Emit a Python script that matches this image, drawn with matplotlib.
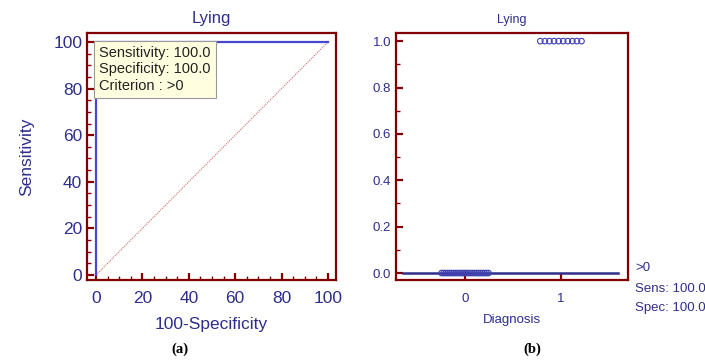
import numpy as np
import matplotlib.pyplot as plt
from matplotlib.ticker import MultipleLocator

plt.rcParams['font.family'] = ['Liberation Sans', 'DejaVu Sans']

# ROC curve for the "Lying" item
roc_fpr = [0, 0, 100]          # 100-Specificity
roc_tpr = [0, 100, 100]        # Sensitivity
sens, spec, criterion = 100.0, 100.0, '>0'

# dot plot values per diagnosis group
diagnosis = [0, 1]
group_values = [0, 1]
group_counts = [24, 10]

frame = '#800000'
navy = '#2E2E8C'
blue = '#4646D0'

fig = plt.figure(figsize=(7.05, 3.6), dpi=100)


def style_axes(ax, fs):
    for s in ax.spines.values():
        s.set_color(frame)
        s.set_linewidth(1.6)
    ax.tick_params(which='both', direction='in', color=frame, labelcolor=navy,
                   labelsize=fs, top=False, right=False)
    ax.tick_params(which='major', length=5, width=1.6)
    ax.tick_params(which='minor', length=3, width=1)


# (a) ROC curve
ax1 = fig.add_axes([0.1234, 0.2222, 0.3532, 0.6861])
ax1.plot([0, 100], [0, 100], color='#D07070', lw=0.8, ls=(0, (1, 1)))
ax1.plot(roc_fpr, roc_tpr, color=blue, lw=1.6)
ax1.set_xlim(-3.9, 103.5)
ax1.set_ylim(-2.2, 103.9)
ax1.xaxis.set_major_locator(MultipleLocator(20))
ax1.yaxis.set_major_locator(MultipleLocator(20))
ax1.xaxis.set_minor_locator(MultipleLocator(5))
ax1.yaxis.set_minor_locator(MultipleLocator(5))
style_axes(ax1, 12.5)
ax1.tick_params(axis='x', pad=8)
ax1.set_title('Lying', color=navy, fontsize=12, pad=7)
ax1.set_xlabel('100-Specificity', color=navy, fontsize=12.5, labelpad=8)
ax1.set_ylabel('Sensitivity', color=navy, fontsize=12.5, labelpad=14)
ax1.text(1.3, 98.3, f'Sensitivity: {sens:.1f}\nSpecificity: {spec:.1f}\nCriterion : {criterion}',
         fontsize=10.5, color='#222222', va='top', ha='left', linespacing=1.22,
         bbox=dict(boxstyle='square,pad=0.35', fc='#FFFFE0', ec='#999999', lw=0.8))

# (b) dot plot by diagnosis
ax2 = fig.add_axes([0.5617, 0.2222, 0.3291, 0.6861])
ax2.plot([-0.65, 1.6], [0, 0], color='#2E2E8C', lw=1.8, zorder=2)
spread = [0.245, 0.215]
for d, v, n, w in zip(diagnosis, group_values, group_counts, spread):
    xs = d + np.linspace(-w, w, n)
    ax2.scatter(xs, [v] * n, s=16, facecolors='none', edgecolors='#4040B0',
                linewidths=0.8, zorder=3)
ax2.set_xlim(-0.72, 1.70)
ax2.set_ylim(-0.03, 1.035)
ax2.set_xticks(diagnosis)
ax2.yaxis.set_major_locator(MultipleLocator(0.2))
ax2.yaxis.set_minor_locator(MultipleLocator(0.1))
ax2.yaxis.set_major_formatter(plt.FormatStrFormatter('%.1f'))
style_axes(ax2, 9.5)
ax2.tick_params(axis='x', pad=9)
ax2.set_title('Lying', color=navy, fontsize=9, pad=7)
ax2.set_xlabel('Diagnosis', color=navy, fontsize=9.5, labelpad=7)
ax2.text(1.03, 0.047, criterion, transform=ax2.transAxes, color=navy, fontsize=9.5, va='center')
ax2.text(1.03, -0.035, f'Sens: {sens:.1f}', transform=ax2.transAxes, color=navy, fontsize=9.5, va='center')
ax2.text(1.03, -0.115, f'Spec: {spec:.1f}', transform=ax2.transAxes, color=navy, fontsize=9.5, va='center')

fig.text(180 / 705, 1 - 349 / 360, '(a)', ha='center', va='center', fontsize=10.5,
         fontweight='bold', family='Liberation Serif')
fig.text(532 / 705, 1 - 349 / 360, '(b)', ha='center', va='center', fontsize=10.5,
         fontweight='bold', family='Liberation Serif')

fig.savefig('out.png', dpi=100)
